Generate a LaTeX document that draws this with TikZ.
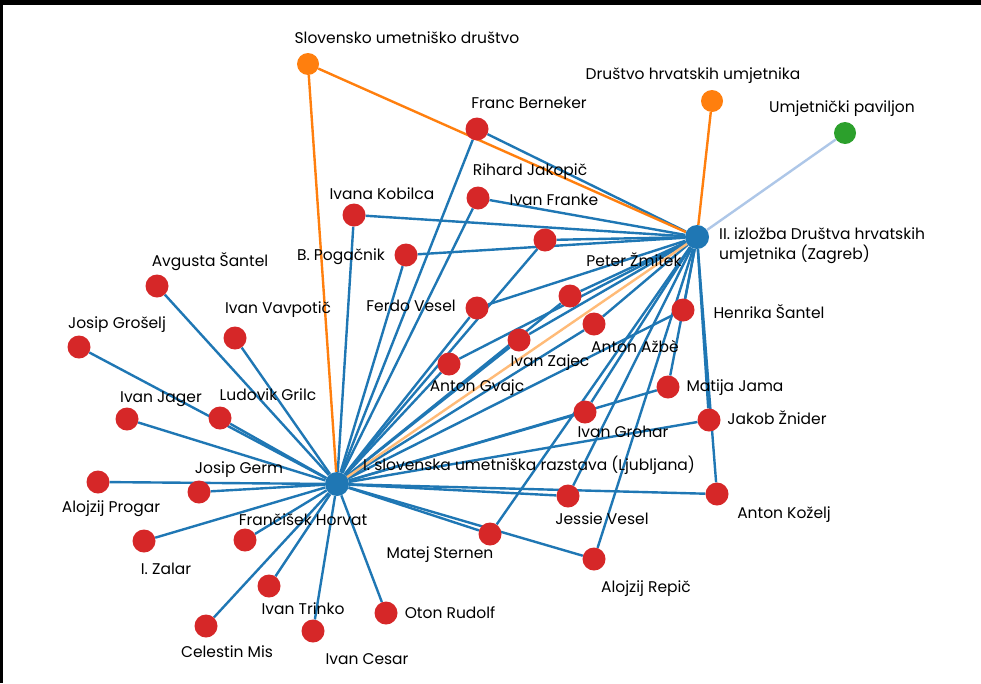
\documentclass[tikz,border=0pt]{standalone}
\usepackage{fontspec}
\setmainfont{Poppins}
\usetikzlibrary{backgrounds}

\definecolor{artred}{HTML}{D62728}
\definecolor{hubblue}{HTML}{1F77B4}
\definecolor{socorange}{HTML}{FF7F0E}
\definecolor{pavgreen}{HTML}{2CA02C}
\definecolor{paleblue}{HTML}{AEC7E8}
\definecolor{paleorange}{HTML}{FFBB78}

\begin{document}
\begin{tikzpicture}[
    x=1pt,y=-1pt,
    artist/.style={circle,fill=artred,minimum size=23pt,inner sep=0pt},
    hub/.style={circle,fill=hubblue,minimum size=24pt,inner sep=0pt},
    society/.style={circle,fill=socorange,minimum size=22pt,inner sep=0pt},
    pavilion/.style={circle,fill=pavgreen,minimum size=22pt,inner sep=0pt},
    tag/.style={font=\fontsize{15.5}{20}\selectfont,inner sep=0pt},
    link/.style={draw=hubblue,line width=2.4pt},
    socline/.style={draw=socorange,line width=2.4pt},
    pavline/.style={draw=paleblue,line width=2.4pt},
    hubline/.style={draw=paleorange,line width=2.4pt},
  ]

  \useasboundingbox (0,0) rectangle (981,683);

  % the two exhibitions

  \node (ljubljana) at (337,484) [hub] {};
  \node at (529,465) [tag] {I. slovenska umetniška razstava (Ljubljana)};

  \node (zagreb) at (697,237) [hub] {};
  \node at (719,246) [tag,anchor=west,align=left] {II. izložba Društva hrvatskih\\umjetnika (Zagreb)};

  % societies and pavilion

  \node (sud) at (308,64) [society] {};
  \node at (407,38) [tag] {Slovensko umetniško društvo};

  \node (dhu) at (712,101) [society] {};
  \node at (693,76) [tag] {Društvo hrvatskih umjetnika};

  \node (paviljon) at (845,133) [pavilion] {};
  \node at (842,109) [tag] {Umjetnički paviljon};

  % artists

  \foreach \n/\x/\y/\lx/\ly/\t in {
      berneker/477/129/529/103/Franc Berneker,
      jakopic/478/198/530/172/Rihard Jakopič,
      kobilca/354/215/382/194/Ivana Kobilca,
      pogacnik/406/255/341/257/B. Pogačnik,
      franke/545/240/554/200/Ivan Franke,
      fvesel/477/308/411/306/Ferdo Vesel,
      zmitek/570/296/634/260/Peter Žmitek,
      azbe/594/324/635/347/Anton Ažbè,
      zajec/519/340/550/363/Ivan Zajec,
      gvajc/449/364/477/388/Anton Gvajc,
      hsantel/683/310/769/312/Henrika Šantel,
      jama/668/387/735/388/Matija Jama,
      znider/709/420/777/418/Jakob Žnider,
      grohar/585/412/623/432/Ivan Grohar,
      jvesel/568/496/602/519/Jessie Vesel,
      kozelj/717/494/784/515/Anton Koželj,
      sternen/490/534/440/555/Matej Sternen,
      repic/594/559/646/589/Alojzij Repič,
      rudolf/386/613/450/613/Oton Rudolf,
      cesar/313/631/367/659/Ivan Cesar,
      trinko/269/586/303/609/Ivan Trinko,
      mis/206/626/227/652/Celestin Mis,
      horvat/245/540/303/520/Frančišek Horvat,
      zalar/144/541/166/569/I. Zalar,
      germ/199/492/239/470/Josip Germ,
      progar/98/482/111/509/Alojzij Progar,
      jager/127/419/161/399/Ivan Jager,
      grilc/220/418/268/395/Ludovik Grilc,
      groselj/79/347/117/325/Josip Grošelj,
      vavpotic/235/338/278/310/Ivan Vavpotič,
      asantel/157/286/210/262/Avgusta Šantel} {
    \node (\n) at (\x,\y) [artist] {};
    \node (\n-tag) at (\lx,\ly) [tag] {\t};
  }

  % connections, behind the nodes

  \begin{pgfonlayer}{background}
    \fill[white] (0,0) rectangle (981,683);
    \fill[black] (0,0) rectangle (981,5);
    \fill[black] (0,0) rectangle (3,683);

    \foreach \n in {berneker,jakopic,kobilca,pogacnik,franke,fvesel,zmitek,
        azbe,zajec,gvajc,hsantel,jama,znider,grohar,jvesel,kozelj,sternen,
        repic,rudolf,cesar,trinko,mis,horvat,zalar,germ,progar,jager,grilc,
        groselj,vavpotic,asantel}
      \draw[link] (\n) -- (ljubljana);

    \foreach \n in {berneker,jakopic,kobilca,pogacnik,franke,fvesel,zmitek,
        azbe,zajec,gvajc,hsantel,jama,znider,grohar,jvesel,kozelj,sternen,repic}
      \draw[link] (\n) -- (zagreb);

    \draw[socline] (sud) -- (ljubljana);
    \draw[socline] (sud) -- (zagreb);
    \draw[socline] (dhu) -- (zagreb);
    \draw[pavline] (paviljon) -- (zagreb);
    \draw[hubline] (ljubljana) -- (zagreb);
  \end{pgfonlayer}

\end{tikzpicture}
\end{document}
